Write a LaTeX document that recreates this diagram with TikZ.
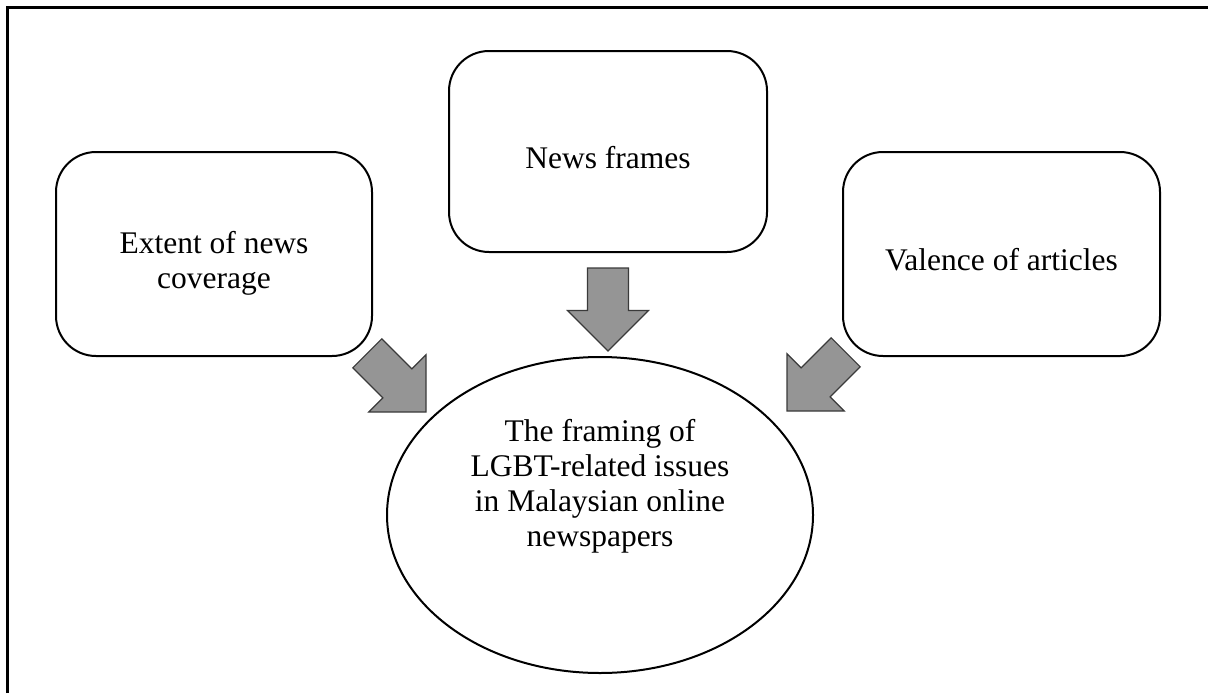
\documentclass[tikz,border=0pt]{standalone}
\usepackage{fontspec}
\setmainfont{Liberation Serif}
\usetikzlibrary{shapes.geometric}
\newcommand{\boxtext}[1]{\raisebox{-8.35pt}[0pt][0pt]{\begin{tabular}{@{}c@{}}#1\end{tabular}}}
\begin{document}
\begin{tikzpicture}[x=0.5pt,y=0.5pt,
  box/.style={draw=black,line width=1pt,rounded corners=20pt,
    font=\fontsize{15.75}{17.5}\selectfont,inner sep=0pt},
  oval/.style={draw=black,line width=1pt,ellipse,inner sep=0pt},
  ovaltext/.style={align=center,font=\fontsize{15.75}{17.5}\selectfont,inner sep=0pt},
  blockarrow/.style={fill=arrowgray,draw=arrowedge,line width=0.6pt,line join=miter}]
\definecolor{arrowgray}{HTML}{959595}
\definecolor{arrowedge}{HTML}{3A3A3A}
\useasboundingbox (0,0) rectangle (1208,693);
% frame (top and left)
\draw[line width=1.5pt] (7.5,0) -- (7.5,686) -- (1208,686);
% boxes
\node[box,minimum width=158pt,minimum height=102pt] (extent) at (214,439) {\boxtext{Extent of news\\coverage}};
\node[box,minimum width=159pt,minimum height=100.5pt] (frames) at (608,541.5) {\boxtext{News frames}};
\node[box,minimum width=158.5pt,minimum height=102pt] (valence) at (1001.5,439) {\boxtext{Valence of articles}};
% ellipse
\node[oval,minimum width=213pt,minimum height=158pt] (framing) at (600,178) {};
\node[ovaltext] (framingtext) at (600,207) {The framing of\\LGBT-related issues\\in Malaysian online\\newspapers};
% block arrows (tip at origin, pointing along +x)
\foreach \tx/\ty/\ang/\nm in {608/342/-90/arrowmid, 426/281/-45/arrowleft, 787/282/-135/arrowright}{
  \coordinate (\nm) at (\tx,\ty);
  \begin{scope}[shift={(\nm)},rotate=\ang]
    \draw[blockarrow] (0,0) -- (-40.5,40.5) -- (-40.5,20.5) -- (-83,20.5) -- (-83,-20.5) -- (-40.5,-20.5) -- (-40.5,-40.5) -- cycle;
  \end{scope}
}
\end{tikzpicture}
\end{document}
